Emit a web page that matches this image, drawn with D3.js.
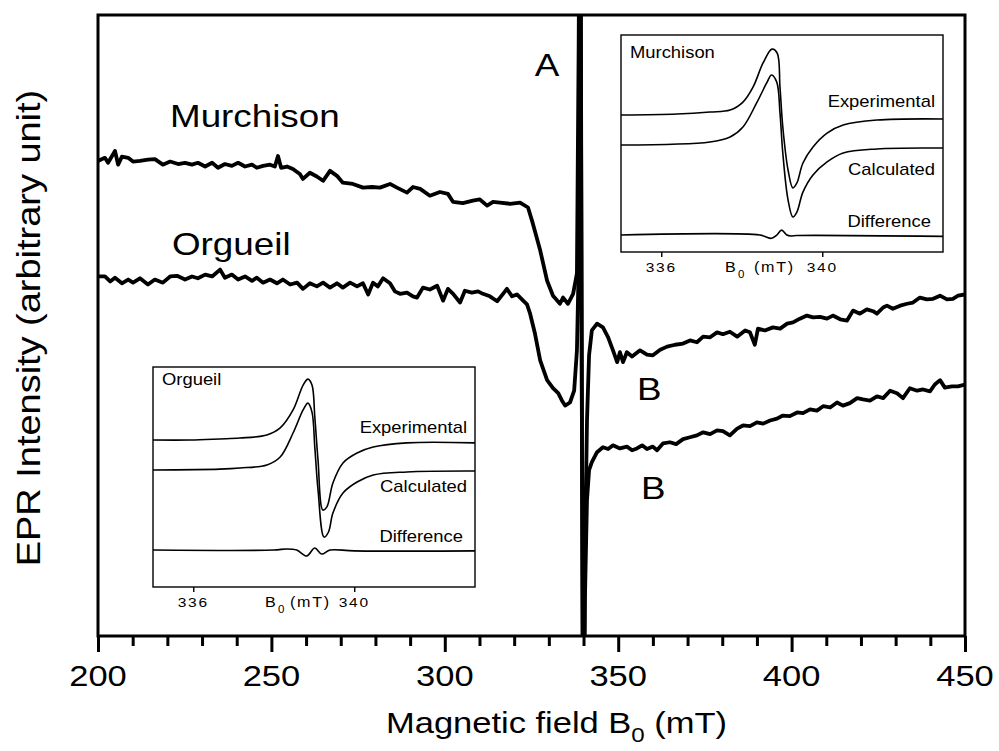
<!DOCTYPE html>
<html>
<head>
<meta charset="utf-8">
<script src="https://cdn.jsdelivr.net/npm/d3@7"></script>
<style>
  body { margin: 0; background: #fff; }
  svg text { font-family: "Liberation Sans", Arial, sans-serif; fill: #000; }
</style>
</head>
<body>
<svg id="chart" width="999" height="751"></svg>
<script>
'use strict';

// Main spectra: [field (mT), intensity (arbitrary unit)]
var murchison = [
  [200.0,76.5],[201.2,76.8],[202.0,77.0],[202.9,76.2],[204.9,78.1],[205.8,75.9],[206.9,77.2],[208.7,77.0],
  [210.1,76.4],[212.1,76.5],[214.4,76.7],[216.4,76.8],[218.7,75.9],[220.8,76.4],[223.1,76.0],[225.1,76.2],
  [227.1,75.9],[228.8,76.2],[230.9,75.6],[232.9,76.2],[234.6,75.4],[236.6,76.0],[238.6,75.7],[240.4,76.2],
  [242.4,75.6],[244.4,75.9],[245.8,75.4],[247.6,75.7],[249.6,75.9],[251.0,75.6],[251.9,77.3],[252.8,75.4],
  [254.5,75.6],[256.2,75.2],[258.2,74.4],[259.1,73.6],[261.1,74.6],[263.1,74.0],[264.9,73.3],[266.9,74.9],
  [268.9,74.1],[270.6,73.0],[273.5,72.8],[276.4,72.2],[279.0,72.3],[281.3,72.2],[284.2,72.8],[286.2,72.2],
  [289.1,71.4],[290.8,72.3],[292.9,72.0],[295.7,70.9],[298.6,71.5],[300.9,71.2],[302.4,69.9],[305.2,69.7],
  [308.1,70.1],[310.1,70.3],[312.2,69.3],[313.9,69.9],[315.9,69.8],[318.8,69.6],[321.7,69.8],[324.0,69.0],
  [325.4,66.4],[327.5,62.1],[329.5,57.2],[331.2,54.8],[333.2,53.5],[334.1,54.5],[335.5,53.5],[337.0,55.1],
  [338.1,58.4],[338.6,95],[339.0,140],[339.5,40],[339.9,-15],[340.2,-5],[340.4,12.2],[341.0,34.7],
  [341.6,45.2],[342.4,49.2],[343.9,50.3],[345.6,49.7],[347.1,48.1],[348.5,46.0],[349.7,44.1],[350.5,45.7],
  [351.4,44.1],[352.5,45.7],[354.0,45.0],[356.3,46.0],[358.3,45.3],[360.0,45.2],[362.1,46.1],[364.1,46.6],
  [366.4,46.9],[368.7,47.1],[370.7,47.6],[372.7,47.3],[374.5,48.2],[376.5,48.1],[378.5,48.9],[380.2,48.6],
  [382.2,49.0],[384.3,48.2],[386.6,49.2],[388.0,48.9],[389.4,46.9],[390.3,49.5],[392.3,49.2],[394.6,49.7],
  [396.7,49.5],[398.7,50.3],[400.4,50.5],[402.4,51.1],[404.4,51.6],[406.2,51.3],[408.2,51.4],[410.2,51.1],
  [411.9,51.6],[414.0,51.0],[416.0,50.8],[417.7,52.4],[419.7,51.9],[421.7,52.6],[423.5,52.3],[424.6,51.9],
  [426.4,52.9],[427.5,53.2],[429.2,52.7],[431.3,53.2],[433.3,53.5],[435.0,53.7],[437.0,54.5],[439.0,54.2],
  [440.8,54.3],[442.8,54.8],[444.8,54.2],[446.5,54.3],[448.0,54.8],[450.0,55.0]
];

var orgueil = [
  [200.0,57.9],[202.0,57.9],[203.5,57.1],[204.9,57.7],[206.9,56.8],[208.7,57.4],[210.1,56.9],[212.1,57.6],
  [214.4,56.6],[216.4,57.4],[218.7,56.9],[220.8,57.9],[222.8,58.0],[225.1,57.4],[227.1,57.9],[228.8,57.6],
  [230.9,58.2],[232.9,57.9],[235.2,59.0],[236.6,57.7],[238.6,58.2],[240.4,57.4],[242.4,57.9],[244.4,57.2],
  [245.8,57.7],[247.6,56.9],[249.6,57.4],[251.6,56.8],[253.3,57.4],[255.4,56.6],[257.4,56.9],[259.1,55.9],
  [261.1,56.8],[263.1,56.3],[264.9,56.9],[266.9,56.1],[268.9,56.8],[270.6,56.1],[272.7,56.9],[274.7,56.3],
  [276.4,56.8],[277.9,55.0],[279.3,56.9],[280.7,56.3],[282.2,57.6],[284.2,56.8],[285.6,55.5],[287.1,55.1],
  [289.1,55.3],[290.8,54.7],[292.0,54.5],[293.7,56.1],[295.7,55.8],[297.8,56.4],[299.5,54.0],[300.9,55.9],
  [302.4,55.1],[304.4,53.7],[305.8,55.6],[307.8,55.3],[309.6,55.5],[311.0,55.1],[313.0,54.7],[315.1,53.9],
  [316.8,55.1],[317.9,55.9],[319.4,54.7],[320.8,55.0],[322.6,54.0],[323.7,53.4],[324.6,51.9],[326.0,48.7],
  [327.5,44.4],[329.5,41.2],[331.2,39.9],[332.7,39.1],[333.8,37.9],[334.7,37.1],[336.1,37.6],[337.3,39.5],
  [338.1,46.0],[338.7,62.1],[339.1,130],[339.6,20],[339.9,-30],[340.2,-10],[340.4,5.8],[341.0,21.9],
  [341.6,26.7],[342.4,28.0],[343.9,29.6],[345.6,30.4],[347.1,30.1],[348.5,30.7],[350.5,30.2],[352.5,30.5],
  [354.0,29.9],[355.4,30.2],[356.9,30.7],[358.3,30.1],[360.0,30.5],[361.2,29.9],[362.9,31.0],[364.9,31.2],
  [366.7,30.9],[368.7,31.7],[370.7,32.0],[372.7,32.3],[374.5,32.8],[376.5,32.5],[378.5,33.1],[380.2,33.0],
  [382.2,32.3],[384.3,33.4],[386.0,33.9],[388.0,33.8],[390.0,34.4],[391.8,34.2],[393.8,34.7],[395.8,35.0],
  [397.5,35.5],[399.5,35.4],[401.6,36.0],[403.3,35.9],[405.3,36.5],[407.3,36.3],[409.1,37.0],[411.1,36.8],
  [413.1,37.6],[414.8,37.1],[416.8,37.5],[418.9,38.3],[420.6,38.1],[422.6,37.9],[424.6,38.6],[426.4,38.3],
  [428.4,39.5],[430.4,39.1],[432.1,38.3],[434.1,39.9],[436.2,39.5],[437.9,39.7],[439.9,39.4],[441.3,40.5],
  [442.8,41.2],[444.2,40.0],[446.2,40.2],[448.0,40.2],[450.0,40.5]
];

// Inset spectra (zoom on line A), same kind of pairs
var murchisonExp = [
  [335.00,63.1],[336.39,63.6],[337.21,64.5],[337.71,65.4],[338.03,69.1],[338.28,76.0],[338.53,87.1],
  [338.75,93.5],[338.88,91.7],[338.95,76.0],[339.02,57.6],[339.15,37.8],[339.27,29.5],[339.37,31.8],
  [339.52,41.0],[339.77,48.4],[340.12,54.8],[340.52,58.5],[341.36,60.8],[343.00,61.3]
];
var murchisonCalc = [
  [335.00,49.3],[337.21,50.7],[337.71,53.0],[338.03,57.6],[338.37,68.7],[338.62,77.9],[338.74,81.6],
  [338.87,78.3],[338.95,64.1],[339.02,45.6],[339.15,24.0],[339.27,16.1],[339.37,18.4],[339.52,27.6],
  [339.77,35.5],[340.12,41.5],[340.52,45.6],[341.36,47.5],[343.00,47.9]
];
var murchisonDiff = [
  [335.00,7.8],[338.45,7.8],[338.74,6.3],[338.87,7.8],[338.99,10.1],[339.12,7.8],[339.24,7.4],
  [339.37,7.6],[343.00,7.2]
];
var orgueilExp = [
  [335.00,66.8],[335.92,66.8],[336.66,67.3],[337.16,67.7],[337.83,69.1],[338.16,72.3],[338.48,80.5],
  [338.73,91.8],[338.85,94.5],[338.95,91.8],[339.02,77.3],[339.10,57.7],[339.22,35.0],[339.32,36.4],
  [339.47,47.3],[339.72,56.4],[340.07,60.9],[340.47,63.6],[341.31,65.5],[343.00,65.5]
];
var orgueilCalc = [
  [335.00,53.2],[336.66,53.6],[337.16,54.1],[337.83,55.5],[338.16,59.1],[338.48,70.0],[338.73,80.5],
  [338.85,83.6],[338.95,79.5],[339.02,63.6],[339.10,44.1],[339.25,22.7],[339.36,25.0],[339.47,33.6],
  [339.72,42.7],[340.07,47.7],[340.47,50.9],[341.31,52.3],[343.00,52.7]
];
var orgueilDiff = [
  [335.00,16.8],[338.00,16.8],[338.32,17.3],[338.57,16.8],[338.82,14.1],[339.02,17.7],[339.19,15.0],
  [339.40,16.8],[340.00,16.4],[343.00,16.4]
];

var fieldTicks  = d3.range(200, 451, 10);
var fieldLabels = [200, 250, 300, 350, 400, 450];
var insetTicks  = [336, 340];

// The scanned figure is a little wider than tall, so text gets stretched.
var STRETCH = 1.15;

var svg = d3.select("#chart");

var x = d3.scaleLinear().domain([200, 450]).range([98, 965]);
var y = d3.scaleLinear().domain([0, 100]).range([636, 15]);

function stretchText(parent, px, py, str, size, anchor, rotate) {
  return parent.append("text")
    .attr("transform", "translate(" + px + "," + py + ")" +
          (rotate ? " rotate(" + rotate + ")" : "") +
          " scale(" + STRETCH + ",1)")
    .attr("text-anchor", anchor || "start")
    .style("font-size", size + "px")
    .text(str);
}

svg.append("rect").attr("width", 999).attr("height", 751).attr("fill", "#fff");

svg.append("clipPath").attr("id", "plotClip")
  .append("rect")
  .attr("x", x(200)).attr("y", y(100))
  .attr("width", x(450) - x(200)).attr("height", y(0) - y(100));

var line = d3.line().x(function(d) { return x(d[0]); }).y(function(d) { return y(d[1]); });

svg.append("g")
  .attr("clip-path", "url(#plotClip)")
  .selectAll("path")
  .data([murchison, orgueil])
  .join("path")
  .attr("d", line)
  .attr("fill", "none")
  .attr("stroke", "#000")
  .attr("stroke-width", 3.8)
  .attr("stroke-linejoin", "round");

// frame
svg.append("rect")
  .attr("x", x(200)).attr("y", y(100))
  .attr("width", x(450) - x(200)).attr("height", y(0) - y(100))
  .attr("fill", "none").attr("stroke", "#000").attr("stroke-width", 3);

// bottom ticks, long ones every 50 mT
var gx = svg.append("g")
  .attr("transform", "translate(0," + y(0) + ")")
  .call(d3.axisBottom(x).tickValues(fieldTicks).tickSize(16).tickFormat(""));
gx.select(".domain").remove();
gx.selectAll(".tick line")
  .attr("stroke", "#000")
  .attr("stroke-width", 3)
  .attr("y2", function(d) { return fieldLabels.indexOf(d) >= 0 ? 16 : 10; });

fieldLabels.forEach(function(v) {
  stretchText(svg, x(v), 686, v, 30, "middle");
});

// axis titles
var xt = stretchText(svg, 386, 733, "Magnetic field B", 30, "start");
xt.append("tspan").attr("dy", 9).style("font-size", "21px").text("0");
xt.append("tspan").attr("dy", -9).text(" (mT)");

stretchText(svg, 40, 328, "EPR Intensity (arbitrary unit)", 33, "middle", -90);

// curve labels
stretchText(svg, 170, 127, "Murchison", 32, "start");
stretchText(svg, 172, 255, "Orgueil", 32, "start");
stretchText(svg, 547, 76, "A", 32, "middle");
stretchText(svg, 637, 400, "B", 32, "start");
stretchText(svg, 641, 499, "B", 32, "start");

// ---- insets ----
function drawInset(box, name, exp, calc, diff, labels) {
  var ix = d3.scaleLinear().domain([335, 343]).range([box.left, box.right]);
  var iy = d3.scaleLinear().domain([0, 100]).range([box.bottom, box.top]);
  var g = svg.append("g");
  var clipId = "clip" + name;

  g.append("rect")
    .attr("x", box.left).attr("y", box.top)
    .attr("width", box.right - box.left).attr("height", box.bottom - box.top)
    .attr("fill", "#fff").attr("stroke", "#000").attr("stroke-width", 1.4);

  g.append("clipPath").attr("id", clipId)
    .append("rect")
    .attr("x", box.left).attr("y", box.top)
    .attr("width", box.right - box.left).attr("height", box.bottom - box.top);

  var iline = d3.line()
    .x(function(d) { return ix(d[0]); })
    .y(function(d) { return iy(d[1]); })
    .curve(d3.curveCatmullRom);

  g.append("g").attr("clip-path", "url(#" + clipId + ")")
    .selectAll("path")
    .data([exp, calc, diff])
    .join("path")
    .attr("d", iline)
    .attr("fill", "none")
    .attr("stroke", "#000")
    .attr("stroke-width", 1.6);

  var ga = g.append("g")
    .attr("transform", "translate(0," + box.bottom + ")")
    .call(d3.axisBottom(ix).tickValues(insetTicks).tickSize(5).tickFormat(""));
  ga.select(".domain").remove();
  ga.selectAll(".tick line").attr("stroke", "#000").attr("stroke-width", 1.4);

  insetTicks.forEach(function(v) {
    stretchText(g, ix(v), box.bottom + 20, v, 13.5, "middle").style("letter-spacing", "1.5px");
  });

  // "B0 (mT)" under the inset
  stretchText(g, labels.unitX, box.bottom + 20, "B", 14, "start");
  stretchText(g, labels.unitX + 13, box.bottom + 26, "0", 10, "start");
  stretchText(g, labels.unitX + labels.unitGap, box.bottom + 20, "(mT)", 14, "start").style("letter-spacing", "1.5px");

  stretchText(g, box.left + 9, labels.nameY, name, 16, "start");
  stretchText(g, box.right - 8, labels.expY, "Experimental", 16, "end");
  stretchText(g, box.right - 8, labels.calcY, "Calculated", 16, "end");
  stretchText(g, box.right - 12, labels.diffY, "Difference", 16, "end");
}

drawInset({left: 621, right: 943, top: 35, bottom: 252}, "Murchison",
  murchisonExp, murchisonCalc, murchisonDiff,
  {nameY: 58, expY: 107, calcY: 175, diffY: 227, unitX: 725, unitGap: 29});

drawInset({left: 153, right: 475, top: 367, bottom: 587}, "Orgueil",
  orgueilExp, orgueilCalc, orgueilDiff,
  {nameY: 385, expY: 433, calcY: 492, diffY: 542, unitX: 265, unitGap: 25});
</script>
</body>
</html>
